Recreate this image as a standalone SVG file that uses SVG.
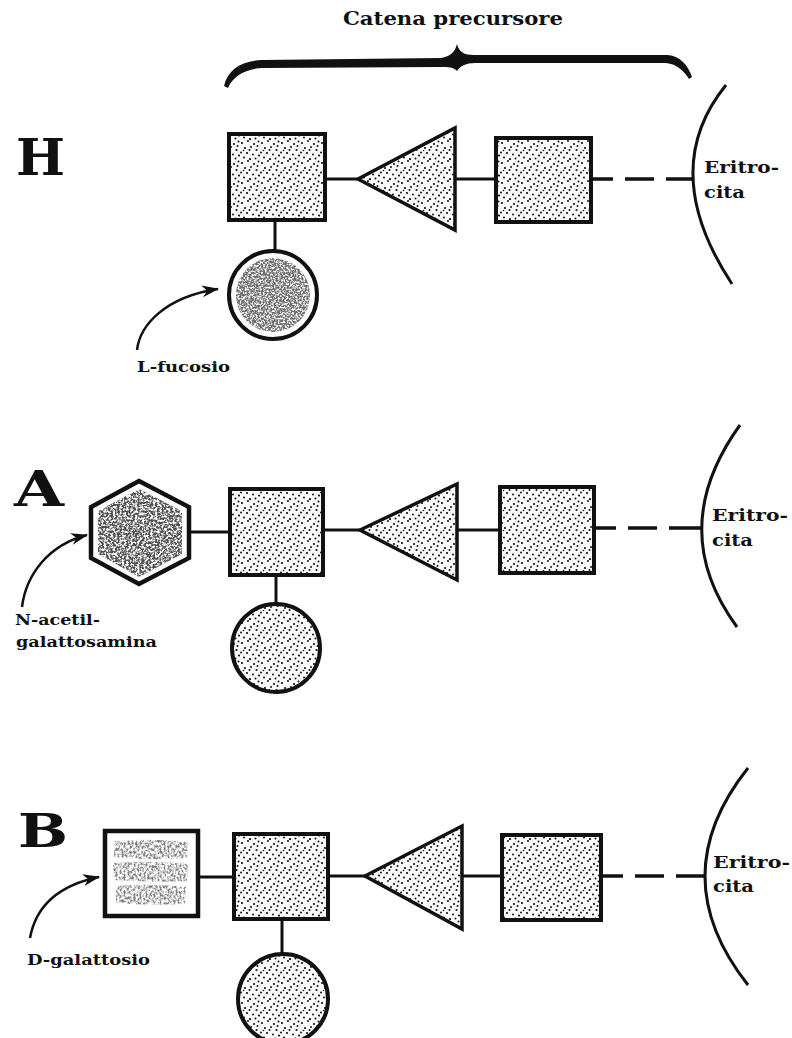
<svg xmlns="http://www.w3.org/2000/svg" width="792" height="1038" viewBox="0 0 792 1038">
  <defs>
    <style>
      .lbl { font-family: "DejaVu Serif", "Liberation Serif", serif; font-weight: bold; fill: #111; }
      .big { font-family: "DejaVu Serif", "Liberation Serif", serif; font-weight: bold; fill: #111; }
      .box { fill: url(#stipple); stroke: #111; stroke-width: 4; }
      .tri { fill: url(#stipple); stroke: #111; stroke-width: 3.5; stroke-linejoin: miter; }
      .ring { fill: #fff; stroke: #111; stroke-width: 4; }
      .link { stroke: #111; stroke-width: 3; fill: none; }
      .dash { stroke: #111; stroke-width: 3.5; fill: none; stroke-dasharray: 20 12 29 12 40; }
      .cell { stroke: #111; stroke-width: 3; fill: none; }
      .curve { stroke: #111; stroke-width: 2.5; fill: none; marker-end: url(#head); }
    </style>
    <!-- fine stippling used for the chain sugars -->
    <pattern id="stipple" width="20" height="20" patternUnits="userSpaceOnUse">
      <rect width="20" height="20" fill="#fbfbfb"/>
      <g fill="#111">
        <circle cx="2" cy="3" r="1.1"/><circle cx="8" cy="1" r="1"/><circle cx="14" cy="4" r="1.1"/>
        <circle cx="18.5" cy="1.5" r="1"/><circle cx="5" cy="8" r="1.1"/><circle cx="11" cy="7" r="1"/>
        <circle cx="16.5" cy="10" r="1.1"/><circle cx="1" cy="12.5" r="1"/><circle cx="7" cy="13" r="1.1"/>
        <circle cx="13" cy="14.5" r="1"/><circle cx="19" cy="15.5" r="1.1"/><circle cx="4" cy="17.5" r="1"/>
        <circle cx="10" cy="19" r="1.1"/><circle cx="15.5" cy="18.5" r="1"/><circle cx="9.5" cy="10" r="1"/>
        <circle cx="17.5" cy="6" r="1"/><circle cx="3.5" cy="10.5" r="0.8"/>
      </g>
    </pattern>
    <!-- coarse grain used for the terminal sugars -->
    <filter id="grain" filterUnits="objectBoundingBox" x="0" y="0" width="1" height="1">
      <feTurbulence type="fractalNoise" baseFrequency="0.55" numOctaves="3" seed="7" result="noise"/>
      <feColorMatrix in="noise" type="matrix" values="0 0 0 0 0.15  0 0 0 0 0.15  0 0 0 0 0.15  3.8 0 0 0 -1.25" result="spots"/>
      <feComposite in="spots" in2="SourceGraphic" operator="in"/>
    </filter>
    <filter id="grainDark" filterUnits="objectBoundingBox" x="0" y="0" width="1" height="1">
      <feTurbulence type="fractalNoise" baseFrequency="0.45" numOctaves="4" seed="11" result="noise"/>
      <feColorMatrix in="noise" type="matrix" values="0 0 0 0 0.08  0 0 0 0 0.08  0 0 0 0 0.08  4.2 0 0 0 -1.5" result="spots"/>
      <feComposite in="spots" in2="SourceGraphic" operator="in"/>
    </filter>
    <filter id="grainLight" filterUnits="objectBoundingBox" x="0" y="0" width="1" height="1">
      <feTurbulence type="fractalNoise" baseFrequency="0.5 0.35" numOctaves="3" seed="4" result="noise"/>
      <feColorMatrix in="noise" type="matrix" values="0 0 0 0 0.2  0 0 0 0 0.2  0 0 0 0 0.2  3.6 0 0 0 -1.45" result="spots"/>
      <feComposite in="spots" in2="SourceGraphic" operator="in"/>
    </filter>
    <marker id="head" markerUnits="userSpaceOnUse" markerWidth="18" markerHeight="14" refX="16" refY="7" orient="auto">
      <path d="M0,1 L17,7 L0,13 L5,7 Z" fill="#111"/>
    </marker>
  </defs>

  <rect width="792" height="1038" fill="#fff"/>

  <!-- heading and brace over the precursor chain -->
  <g id="precursor-label">
    <text class="lbl" x="343" y="25" font-size="19" textLength="220" lengthAdjust="spacingAndGlyphs">Catena  precursore</text>
    <path d="M224 86 C228 70 240 61 262 60 L440 58 C450 57 455 52 457 44 C459 52 464 55 474 55 L668 55 C680 56 688 65 692 77 L689 79 C684 71 677 64 666 63 L475 63 C466 63 460 66 457 71 C454 67 448 67 440 67 L262 68 C245 69 233 76 228 88 Z" fill="#111"/>
  </g>

  <!-- ===== H antigen ===== -->
  <g id="label-H"><text class="big" x="16" y="175" font-size="50" textLength="49" lengthAdjust="spacingAndGlyphs">H</text></g>
  <g id="H-sugar1"><rect class="box" x="229" y="134" width="96" height="86"/></g>
  <g id="H-sugar2"><polygon class="tri" points="358,179 455,128 455,230"/></g>
  <g id="H-sugar3"><rect class="box" x="496" y="138" width="95" height="84"/></g>
  <g id="H-fucose">
    <circle class="ring" cx="273" cy="295" r="44"/>
    <circle cx="273" cy="295" r="37" fill="#fff" filter="url(#grain)"/>
  </g>
  <g id="H-cell">
    <path class="cell" d="M726 85 Q657 170 732 284"/>
    <text class="lbl" x="704" y="173" font-size="17" textLength="75" lengthAdjust="spacingAndGlyphs">Eritro-</text>
    <text class="lbl" x="704" y="198" font-size="17" textLength="41" lengthAdjust="spacingAndGlyphs">cita</text>
  </g>
  <g id="H-note">
    <text class="lbl" x="137" y="372" font-size="15" textLength="93" lengthAdjust="spacingAndGlyphs">L-fucosio</text>
  </g>

  <!-- ===== A antigen ===== -->
  <g id="label-A"><text class="big" x="14" y="506" font-size="48" textLength="50" lengthAdjust="spacingAndGlyphs">A</text></g>
  <g id="A-galnac">
    <polygon points="139,481 189,507 189,558 139,584 91,558 91,507" fill="#fff" stroke="#111" stroke-width="4.5"/>
    <polygon points="139,489 182,511 182,554 139,577 98,554 98,511" fill="#fff" filter="url(#grainDark)"/>
  </g>
  <g id="A-sugar1"><rect class="box" x="230" y="489" width="93" height="86"/></g>
  <g id="A-sugar2"><polygon class="tri" points="360,530 457,484 457,580"/></g>
  <g id="A-sugar3"><rect class="box" x="500" y="487" width="94" height="86"/></g>
  <g id="A-fucose"><circle cx="276" cy="648" r="44" fill="url(#stipple)" stroke="#111" stroke-width="4"/></g>
  <g id="A-cell">
    <path class="cell" d="M740 425 Q665 529 737 627"/>
    <text class="lbl" x="712" y="521" font-size="17" textLength="76" lengthAdjust="spacingAndGlyphs">Eritro-</text>
    <text class="lbl" x="712" y="546" font-size="17" textLength="41" lengthAdjust="spacingAndGlyphs">cita</text>
  </g>
  <g id="A-note">
    <text class="lbl" x="15" y="625" font-size="15" textLength="85" lengthAdjust="spacingAndGlyphs">N-acetil-</text>
    <text class="lbl" x="16" y="647" font-size="15" textLength="141" lengthAdjust="spacingAndGlyphs">galattosamina</text>
  </g>

  <!-- ===== B antigen ===== -->
  <g id="label-B"><text class="big" x="18" y="847" font-size="46" textLength="50" lengthAdjust="spacingAndGlyphs">B</text></g>
  <g id="B-galactose">
    <rect x="105" y="831" width="93" height="85" fill="#fff" stroke="#111" stroke-width="4.5"/>
    <g fill="#fff" filter="url(#grainLight)">
      <path d="M115 841 Q150 838 188 842 L187 858 Q150 861 114 857 Z"/>
      <path d="M113 863 Q150 860 188 864 L187 881 Q150 883 114 880 Z"/>
      <path d="M116 886 Q150 883 186 887 L185 904 Q150 906 116 903 Z"/>
    </g>
  </g>
  <g id="B-sugar1"><rect class="box" x="234" y="834" width="94" height="85"/></g>
  <g id="B-sugar2"><polygon class="tri" points="365,876 462,826 462,929"/></g>
  <g id="B-sugar3"><rect class="box" x="502" y="835" width="99" height="85"/></g>
  <g id="B-fucose"><circle cx="283" cy="999" r="45" fill="url(#stipple)" stroke="#111" stroke-width="4"/></g>
  <g id="B-cell">
    <path class="cell" d="M748 768 Q662 876 748 985"/>
    <text class="lbl" x="713" y="868" font-size="17" textLength="77" lengthAdjust="spacingAndGlyphs">Eritro-</text>
    <text class="lbl" x="713" y="892" font-size="17" textLength="41" lengthAdjust="spacingAndGlyphs">cita</text>
  </g>
  <g id="B-note">
    <text class="lbl" x="27" y="965" font-size="15" textLength="123" lengthAdjust="spacingAndGlyphs">D-galattosio</text>
  </g>

  <!-- ===== bonds and pointers ===== -->
  <g id="connectors">
    <!-- H -->
    <line class="link" x1="327" y1="179" x2="358" y2="179"/>
    <line class="link" x1="455" y1="179" x2="494" y2="179"/>
    <line class="link" x1="275" y1="222" x2="275" y2="251"/>
    <line class="dash" x1="593" y1="179" x2="694" y2="179"/>
    <path class="curve" d="M137 350 C140 325 165 297 218 289"/>
    <!-- A -->
    <line class="link" x1="190" y1="532" x2="228" y2="532"/>
    <line class="link" x1="325" y1="530" x2="360" y2="530"/>
    <line class="link" x1="457" y1="530" x2="498" y2="530"/>
    <line class="link" x1="276" y1="577" x2="276" y2="604"/>
    <line class="dash" x1="596" y1="528" x2="702" y2="528"/>
    <path class="curve" d="M22 607 C26 575 48 545 87 535"/>
    <!-- B -->
    <line class="link" x1="200" y1="877" x2="232" y2="877"/>
    <line class="link" x1="330" y1="876" x2="365" y2="876"/>
    <line class="link" x1="462" y1="876" x2="500" y2="876"/>
    <line class="link" x1="282" y1="921" x2="282" y2="954"/>
    <line class="dash" x1="603" y1="876" x2="706" y2="876"/>
    <path class="curve" d="M30 938 C36 905 60 885 99 877"/>
  </g>
</svg>
